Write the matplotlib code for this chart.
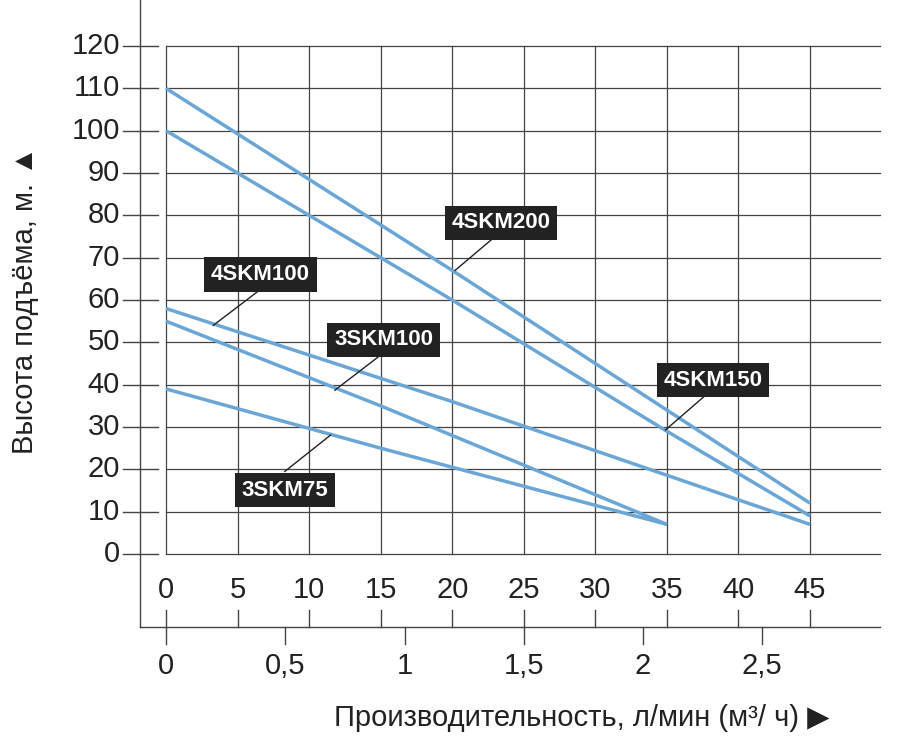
import matplotlib.pyplot as plt
import numpy as np

plt.rcParams['font.family'] = ['Liberation Sans', 'DejaVu Sans']

# flow l/min and head m for each pump
curves = {
    '4SKM200': ([0, 20, 45], [110, 67, 12]),
    '4SKM150': ([0, 20, 35, 45], [100, 60, 29, 9]),
    '4SKM100': ([0, 20, 45], [58, 36, 7]),
    '3SKM100': ([0, 15, 35], [55, 35, 7]),
    '3SKM75': ([0, 15, 35], [39, 25, 7]),
}
# label box centre, pointer start on curve, pointer end at box
labels = {
    '4SKM200': ((23.4, 78.2), (20.2, 67), (23.0, 75)),
    '4SKM100': ((6.6, 66.0), (3.3, 54), (6.6, 62.5)),
    '3SKM100': ((15.2, 50.6), (11.8, 38.7), (15.0, 47)),
    '4SKM150': ((38.2, 41.1), (34.9, 29.3), (37.7, 37.5)),
    '3SKM75': ((8.3, 15.1), (11.5, 28.1), (8.3, 19.5)),
}
lmin_ticks = list(range(0, 50, 5))
m3h_ticks = [0, 0.5, 1, 1.5, 2, 2.5]
m3h_names = ['0', '0,5', '1', '1,5', '2', '2,5']
head_ticks = list(range(0, 130, 10))

fig = plt.figure(figsize=(8.98, 7.51), dpi=100)
ax = fig.add_axes([0, 0, 1, 1])
sx = 14.311
sy = 4.233
ax.set_xlim(-166 / sx, (898 - 166) / sx)
ax.set_ylim((554 - 751) / sy, 554 / sy)
ax.axis('off')

gc = '#444444'
tc = '#222222'
x_spine = (140 - 166) / sx
y_bot = (554 - 627) / sy
right = (880 - 166) / sx
ax.plot([x_spine, x_spine], [y_bot, 554 / sy], color=gc, lw=1)
ax.plot([x_spine, right], [y_bot, y_bot], color=gc, lw=1)
for y in head_ticks:
    ax.plot([(123 - 166) / sx, (158 - 166) / sx], [y, y], color=gc, lw=1)
    ax.plot([0, right], [y, y], color=gc, lw=0.9)
    ax.text((120 - 166) / sx, y, str(y), ha='right', va='center', fontsize=21, color=tc)
for x in lmin_ticks:
    ax.plot([x, x], [0, 120], color=gc, lw=0.9)
    ax.plot([x, x], [y_bot, y_bot + 17 / sy], color=gc, lw=1)
    ax.text(x, (554 - 590) / sy, str(x), ha='center', va='center', fontsize=21, color=tc)
for v, n in zip(m3h_ticks, m3h_names):
    x = v * 1000 / 60
    ax.plot([x, x], [y_bot, y_bot - 17 / sy], color=gc, lw=1)
    ax.text(x, (554 - 666) / sy, n, ha='center', va='center', fontsize=21, color=tc)

for name, (xs, ys) in curves.items():
    ax.plot(xs, ys, color='#6aa6d6', lw=2.5, solid_capstyle='butt')

for name, (c, p0, p1) in labels.items():
    ax.plot([p0[0], p1[0]], [p0[1], p1[1]], color=tc, lw=1)
    ax.text(c[0], c[1], name, ha='center', va='center', fontsize=16, fontweight='bold',
            color='white', bbox=dict(boxstyle='square,pad=0.3', fc='#222222', ec='none'))

ax.text((25 - 166) / sx, (554 - 300) / sy, 'Высота подъёма, м. ▲', rotation=90,
        ha='center', va='center', fontsize=21, color=tc)
ax.text((830 - 166) / sx, (554 - 718) / sy, 'Производительность, л/мин (м³/ ч) ▶', ha='right',
        va='center', fontsize=21, color=tc, family=['Liberation Sans', 'DejaVu Sans'])

fig.savefig('out.png', dpi=100)
